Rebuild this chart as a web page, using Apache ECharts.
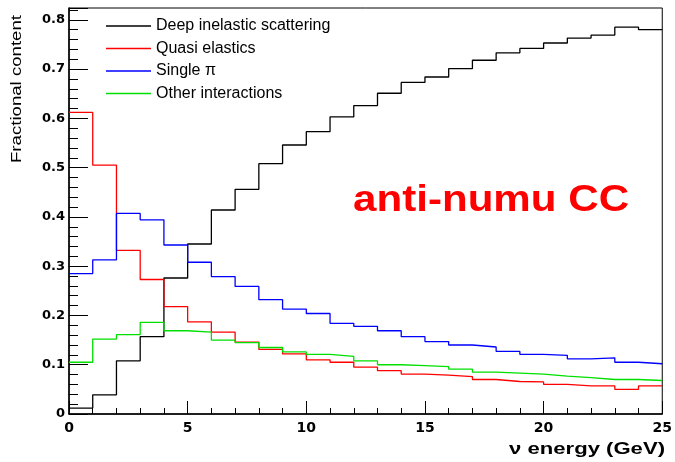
<!DOCTYPE html>
<html>
<head>
<meta charset="utf-8">
<script src="https://cdn.jsdelivr.net/npm/echarts@6/dist/echarts.min.js"></script>
<style>
html,body{margin:0;padding:0;background:#fff;}
#chart{width:675px;height:462px;}
</style>
</head>
<body>
<div id="chart"></div>
<script>
// Bin lower edges (GeV), bin width 1
const binEdges = [0,1,2,3,4,5,6,7,8,9,10,11,12,13,14,15,16,17,18,19,20,21,22,23,24,25];
const seriesNames = ['Deep inelastic scattering', 'Quasi elastics', 'Single \u03c0', 'Other interactions'];
const deepInelastic = [0.012,0.039,0.108,0.157,0.276,0.345,0.414,0.456,0.508,0.546,0.573,0.603,0.626,0.651,0.673,0.684,0.701,0.718,0.733,0.742,0.753,0.763,0.769,0.785,0.780];
const quasiElastic  = [0.612,0.505,0.332,0.273,0.218,0.187,0.166,0.146,0.131,0.122,0.110,0.105,0.095,0.088,0.081,0.079,0.076,0.070,0.066,0.065,0.060,0.057,0.057,0.050,0.057];
const singlePi      = [0.285,0.313,0.407,0.394,0.343,0.308,0.279,0.259,0.232,0.213,0.204,0.184,0.178,0.169,0.157,0.147,0.140,0.136,0.127,0.121,0.119,0.112,0.114,0.105,0.102];
const otherInter    = [0.105,0.152,0.161,0.186,0.169,0.166,0.150,0.145,0.135,0.126,0.121,0.117,0.108,0.100,0.098,0.096,0.091,0.085,0.083,0.081,0.077,0.074,0.070,0.070,0.068];
const xTicks = [0,5,10,15,20,25];
const yTicks = [0,0.1,0.2,0.3,0.4,0.5,0.6,0.7,0.8];
const colors = ['#000000', '#ff0000', '#0000ff', '#00e000'];

function histData(vals) {
  const d = vals.map((v, i) => [binEdges[i], v]);
  d.push([binEdges[vals.length], vals[vals.length - 1]]);
  return d;
}

const chart = echarts.init(document.getElementById('chart'), null, {renderer: 'canvas'});
const allVals = [deepInelastic, quasiElastic, singlePi, otherInter];

const option = {
  backgroundColor: '#ffffff',
  animation: false,
  grid: {left: 69, right: 10, top: 8, bottom: 48, show: true, borderColor: '#000', borderWidth: 1},
  legend: {
    orient: 'vertical',
    left: 101,
    top: 13,
    icon: 'rect',
    itemWidth: 45,
    itemHeight: 1.4,
    itemGap: 6.5,
    data: seriesNames,
    textStyle: {fontFamily: 'Liberation Sans', fontSize: 16, color: '#000'}
  },
  xAxis: {
    type: 'value',
    min: xTicks[0],
    max: xTicks[xTicks.length - 1],
    interval: 5,
    axisLine: {lineStyle: {color: '#000', width: 1.5}},
    axisTick: {inside: true, length: 13, lineStyle: {color: '#000', width: 1}},
    minorTick: {show: true, splitNumber: 5, length: 6, lineStyle: {color: '#000', width: 1}},
    splitLine: {show: false},
    axisLabel: {margin: 7, fontFamily: 'DejaVu Sans', fontWeight: 'bold', fontSize: 14, color: '#000'}
  },
  yAxis: {
    type: 'value',
    min: yTicks[0],
    max: 0.824,
    interval: 0.1,
    axisLine: {lineStyle: {color: '#000', width: 1.5}},
    axisTick: {inside: true, length: 19, lineStyle: {color: '#000', width: 1}},
    minorTick: {show: true, splitNumber: 5, length: 9, lineStyle: {color: '#000', width: 1}},
    splitLine: {show: false},
    axisLabel: {margin: 4, showMaxLabel: false, fontFamily: 'DejaVu Sans', fontWeight: 'bold', fontSize: 13, color: '#000'}
  },
  series: seriesNames.map((name, i) => ({
    name: name,
    type: 'line',
    step: 'end',
    symbol: 'none',
    data: histData(allVals[i]),
    color: colors[i],
    itemStyle: {color: colors[i]},
    lineStyle: {color: colors[i], width: 1.3}
  })),
  graphic: [
    {
      type: 'text',
      x: 353, y: 201,
      scaleX: 1.17,
      style: {text: 'anti-numu CC', fill: '#ff0000', font: 'bold 36px "Liberation Sans"', textAlign: 'left', textVerticalAlign: 'middle'}
    },
    {
      type: 'text',
      x: 665, y: 449,
      scaleX: 1.3,
      style: {text: '\u03bd energy (GeV)', fill: '#000', font: 'bold 17px "Liberation Sans"', textAlign: 'right', textVerticalAlign: 'middle'}
    },
    {
      type: 'text',
      x: 17, y: 15,
      rotation: Math.PI / 2,
      scaleX: 1.33,
      style: {text: 'Fractional content', fill: '#000', font: '14px "Liberation Sans"', textAlign: 'right', textVerticalAlign: 'middle'}
    }
  ]
};
chart.setOption(option);
</script>
</body>
</html>
